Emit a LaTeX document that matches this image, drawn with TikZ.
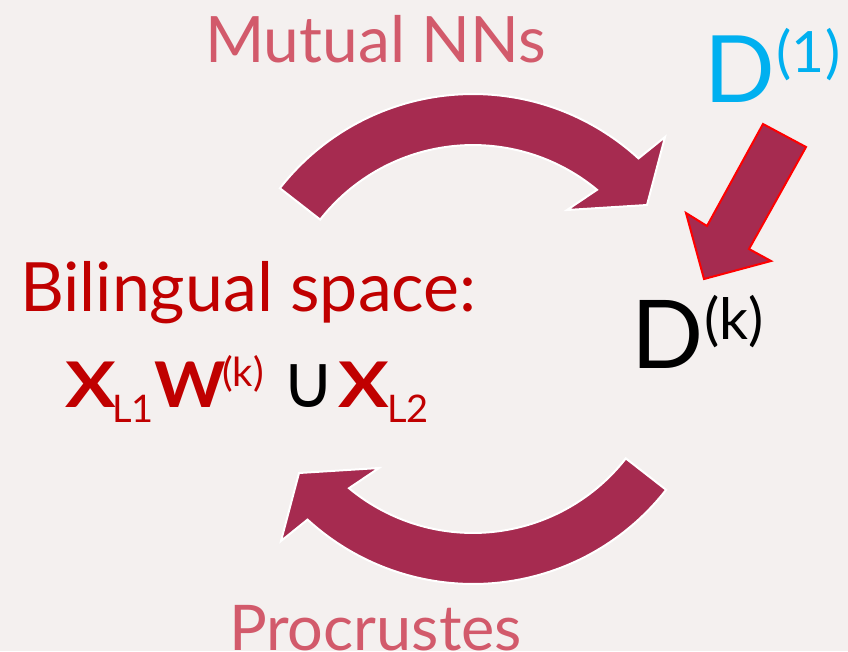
\documentclass[tikz,border=0pt]{standalone}
\usepackage{fontspec}
\setmainfont{Lato}
\newfontfamily\djv{DejaVu Sans}
\definecolor{bgc}{HTML}{F4F0EF}
\definecolor{arrowc}{HTML}{A62B50}
\definecolor{pinktxt}{HTML}{D25A6B}
\definecolor{darkred}{HTML}{C00000}
\definecolor{cyanc}{HTML}{00B0F0}
\tikzset{
  bigarrow/.style={fill=arrowc, draw=white, line width=2pt, line join=miter},
  smallarrow/.style={fill=arrowc, draw=red, line width=2pt, line join=miter},
  txt/.style={anchor=base west, inner sep=0pt, outer sep=0pt},
}
\newcommand{\fs}[1]{\fontsize{#1}{#1}\selectfont}
\begin{document}
\begin{tikzpicture}[x=1pt,y=-1pt]
\fill[bgc] (0,0) rectangle (848,651);
\useasboundingbox (0,0) rectangle (848,651);
% top curved arrow
\path[bigarrow] (279.9,188.2) arc[start angle=-142,end angle=-47.5,radius=245]
  -- (665,137) -- (647,205) -- (567,210) -- (597,189.8)
  arc[start angle=-50.3,end angle=-142,radius=194] -- cycle;
% bottom curved arrow (point reflection)
\path[bigarrow, rotate around={180:(473,339)}] (279.9,188.2) arc[start angle=-142,end angle=-47.5,radius=245]
  -- (665,137) -- (647,205) -- (567,210) -- (597,189.8)
  arc[start angle=-50.3,end angle=-142,radius=194] -- cycle;
% small arrow
\path[smallarrow] (763,124) -- (806,147) -- (749,249) -- (771,261) -- (704,279) -- (686,213) -- (707,226) -- cycle;
% texts
\node[txt, text=pinktxt, font=\fs{64}] (mutual) at (205,62) {Mutual NNs};
\node[txt, text=pinktxt, font=\fs{63}] (procr) at (229,650) {Procrustes};
\node[txt, text=cyanc] (d1) at (704,102) {\fs{93}D\hspace{2pt}\raisebox{30pt}{\fs{57}(1)}};
\node[txt, text=black] (dk) at (631,368) {\fs{95}D\hspace{1pt}\raisebox{29pt}{\fs{57}(k)}};
\node[txt, text=darkred, font=\fs{68}] (biling) at (20,311) {Bilingual space:};
\node[txt, text=darkred, font=\fs{63}\bfseries] (x1) at (65,407) {\scalebox{1.2}[1]{X}};
\node[txt, text=darkred, font=\fs{38}] (l1) at (112,422) {L1};
\node[txt, text=darkred, font=\fs{63}\bfseries] (w) at (154,407) {\scalebox{1.08}[1]{W}};
\node[txt, text=darkred, font=\fs{40}] (wk) at (222,386) {(k)};
\node[txt, text=black, font=\fs{74}\djv] (cup) at (281,407) {∪};
\node[txt, text=darkred, font=\fs{63}\bfseries] (x2) at (338,407) {\scalebox{1.2}[1]{X}};
\node[txt, text=darkred, font=\fs{38}] (l2) at (387,422) {L2};
\end{tikzpicture}
\end{document}
